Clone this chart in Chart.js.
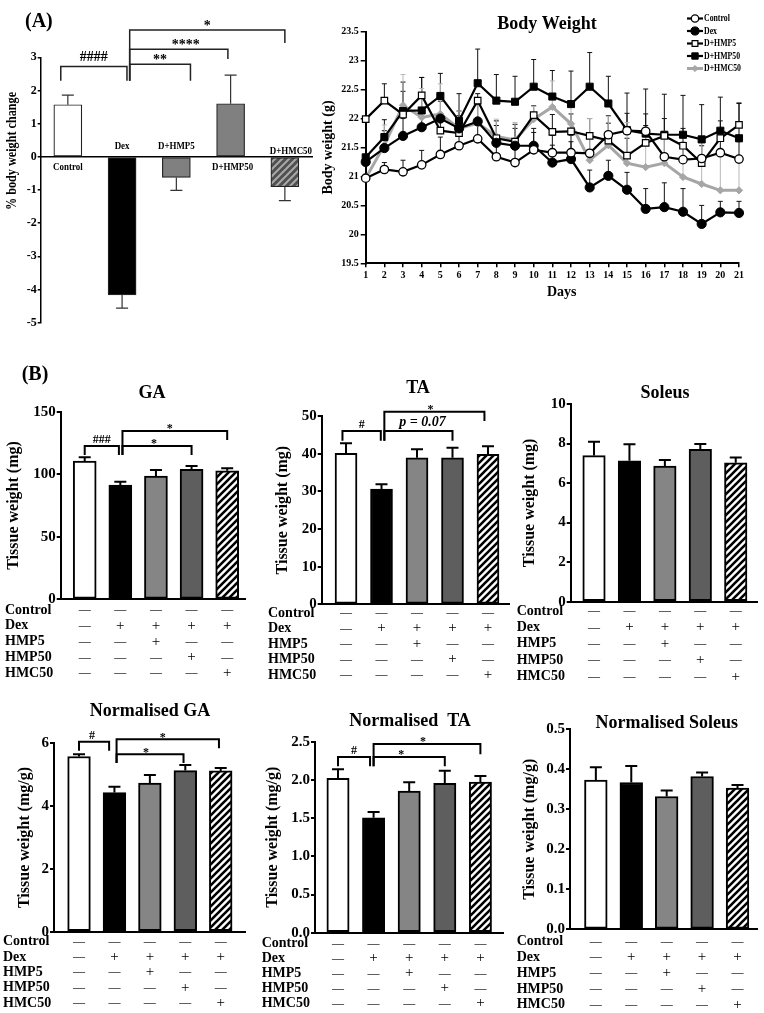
<!DOCTYPE html>
<html><head><meta charset="utf-8">
<script src="https://cdn.jsdelivr.net/npm/chart.js@4.4.1/dist/chart.umd.min.js"></script>
<style>
html,body{margin:0;padding:0;background:#fff;}
#page{position:relative;width:764px;height:1013px;overflow:hidden;background:#fff;}
canvas{position:absolute;}
</style></head>
<body><div id="page"></div>
<script>
const SERIF = '"Liberation Serif","Times New Roman",serif';

// groups / condition table
const groups = ['Control', 'Dex', 'D+HMP5', 'D+HMP50', 'D+HMC50'];
const rowNames = ['Control', 'Dex', 'HMP5', 'HMP50', 'HMC50'];
const rowMarks = [
  ['—', '—', '—', '—', '—'],
  ['—', '+', '+', '+', '+'],
  ['—', '—', '+', '—', '—'],
  ['—', '—', '—', '+', '—'],
  ['—', '—', '—', '—', '+']
];

// (A) % body weight change
const bwChange = [1.57, -4.16, -0.62, 1.60, -0.90];
const bwChangeErr = [0.29, 0.40, 0.39, 0.86, 0.42];

// (A) body weight over days
const days = [1, 2, 3, 4, 5, 6, 7, 8, 9, 10, 11, 12, 13, 14, 15, 16, 17, 18, 19, 20, 21];
const bwControl = [20.97, 21.12, 21.08, 21.20, 21.38, 21.53, 21.65, 21.34, 21.24, 21.46, 21.41, 21.41, 21.40, 21.72, 21.79, 21.78, 21.34, 21.29, 21.31, 21.41, 21.30];
const bwDex     = [21.25, 21.49, 21.70, 21.85, 22.00, 21.83, 21.95, 21.58, 21.53, 21.53, 21.24, 21.30, 20.81, 21.01, 20.77, 20.44, 20.47, 20.39, 20.18, 20.38, 20.37];
const bwHMP5    = [21.99, 22.31, 22.07, 22.40, 21.79, 21.75, 22.31, 21.66, 21.60, 22.06, 21.77, 21.78, 21.70, 21.62, 21.36, 21.58, 21.70, 21.53, 21.23, 21.66, 21.89];
const bwHMP50   = [21.33, 21.68, 22.13, 22.14, 22.39, 21.96, 22.61, 22.31, 22.29, 22.55, 22.38, 22.25, 22.55, 22.26, 21.80, 21.74, 21.72, 21.72, 21.64, 21.79, 21.66];
const bwHMC50   = [20.97, 21.54, 22.23, 22.02, 22.08, 21.83, 21.92, 21.69, 21.63, 21.99, 22.20, 21.91, 21.28, 21.54, 21.23, 21.16, 21.23, 20.99, 20.87, 20.76, 20.76];
const errControl = [0.05, 0.12, 0.20, 0.25, 0.30, 0.30, 0.30, 0.30, 0.30, 0.30, 0.30, 0.30, 0.30, 0.33, 0.30, 0.30, 0.35, 0.30, 0.30, 0.30, 0.30];
const errDex     = [0.05, 0.30, 0.30, 0.30, 0.30, 0.30, 0.30, 0.30, 0.30, 0.30, 0.30, 0.30, 0.30, 0.27, 0.30, 0.35, 0.42, 0.40, 0.32, 0.19, 0.20];
const errHMP5    = [0.05, 0.29, 0.40, 0.31, 0.30, 0.30, 0.12, 0.30, 0.30, 0.16, 0.30, 0.30, 0.30, 0.30, 0.30, 0.30, 0.30, 0.30, 0.30, 0.30, 0.38];
const errHMP50   = [0.05, 0.30, 0.50, 0.57, 0.39, 0.47, 0.59, 0.45, 0.44, 0.47, 0.45, 0.57, 0.59, 0.47, 0.64, 0.77, 0.70, 0.68, 0.60, 0.58, 0.60];
const errHMC50   = [0.05, 0.35, 0.53, 0.50, 0.52, 0.30, 0.30, 0.30, 0.30, 0.22, 0.45, 0.30, 0.72, 0.50, 0.70, 0.60, 0.55, 0.55, 0.80, 0.60, 0.60];

// (B) tissue weights
const gaVals = [110.6, 91.4, 98.6, 103.9, 102.8];
const gaErr  = [2.9, 2.6, 4.8, 2.7, 1.9];
const taVals = [40.1, 30.6, 38.9, 38.9, 39.8];
const taErr  = [2.65, 1.3, 2.3, 2.7, 2.2];
const solVals = [7.39, 7.13, 6.86, 7.71, 7.03];
const solErr  = [0.70, 0.83, 0.31, 0.27, 0.27];
const ngaVals = [5.58, 4.43, 4.73, 5.13, 5.12];
const ngaErr  = [0.07, 0.19, 0.26, 0.18, 0.09];
const ntaVals = [2.02, 1.505, 1.855, 1.955, 1.97];
const ntaErr  = [0.12, 0.075, 0.115, 0.165, 0.08];
const nsolVals = [0.373, 0.367, 0.332, 0.382, 0.353];
const nsolErr  = [0.032, 0.041, 0.015, 0.010, 0.008];

function el(sel){ return document.querySelector(sel); }
function F(size, style){ return (style ? style + ' ' : '') + 'bold ' + size + 'px ' + SERIF; }
function cf(size){ return { family: SERIF, size, weight: 'bold' }; }

function addCanvas(x, y, w, h){
  const c = document.createElement('canvas');
  c.width = w; c.height = h;
  c.style.left = x + 'px'; c.style.top = y + 'px';
  c.style.width = w + 'px'; c.style.height = h + 'px';
  el('#page').appendChild(c);
  return c;
}

function hatchTile(bg, fg, size, lw){
  const t = document.createElement('canvas'); t.width = t.height = size;
  const g = t.getContext('2d');
  g.fillStyle = bg; g.fillRect(0, 0, size, size);
  g.strokeStyle = fg; g.lineWidth = lw; g.beginPath();
  g.moveTo(-1, size + 1); g.lineTo(size + 1, -1);
  g.moveTo(-1, 1); g.lineTo(1, -1);
  g.moveTo(size - 1, size + 1); g.lineTo(size + 1, size - 1);
  g.stroke();
  return t;
}

function txt(ctx, s, x, y, font, sx, align, rot){
  ctx.save();
  ctx.translate(x, y);
  if (rot) ctx.rotate(rot);
  ctx.scale(sx || 1, 1);
  ctx.font = font; ctx.textAlign = align || 'center'; ctx.textBaseline = 'middle';
  ctx.fillStyle = '#000';
  ctx.fillText(s, 0, 0);
  ctx.restore();
}

function makeDeco(o, cx, cy){
  return {
    id: 'deco',
    beforeDatasetsDraw(chart){
      if (!o.lineErrs) return;
      const ctx = chart.ctx, ys = chart.scales.y;
      ctx.save();
      o.lineErrs.forEach((errs, k) => {
        const meta = chart.getDatasetMeta(k);
        const vals = chart.data.datasets[k].data;
        ctx.strokeStyle = o.lineErrColors[k]; ctx.lineWidth = 1;
        meta.data.forEach((pt, i) => {
          const y0 = ys.getPixelForValue(vals[i]), y1 = ys.getPixelForValue(vals[i] + errs[i]);
          ctx.beginPath();
          ctx.moveTo(pt.x, y0); ctx.lineTo(pt.x, y1);
          ctx.moveTo(pt.x - 2.5, y1); ctx.lineTo(pt.x + 2.5, y1);
          ctx.stroke();
        });
      });
      ctx.restore();
    },
    afterDatasetsDraw(chart){
      if (!o.errs) return;
      const ctx = chart.ctx, ys = chart.scales.y, meta = chart.getDatasetMeta(0);
      ctx.save();
      ctx.strokeStyle = o.errColor || '#000'; ctx.lineWidth = o.errW;
      meta.data.forEach((bar, i) => {
        const v = o.vals[i], e = o.errs[i];
        const y0 = ys.getPixelForValue(v), y1 = ys.getPixelForValue(v + Math.sign(v) * e);
        ctx.beginPath();
        ctx.moveTo(bar.x, y0); ctx.lineTo(bar.x, y1);
        ctx.moveTo(bar.x - o.cap, y1); ctx.lineTo(bar.x + o.cap, y1);
        ctx.stroke();
      });
      ctx.restore();
    },
    afterDraw(chart){
      const ctx = chart.ctx, xs = chart.scales.x, ys = chart.scales.y;
      ctx.save();
      ctx.fillStyle = '#000'; ctx.strokeStyle = '#000';
      (o.brackets || []).forEach(b => {
        const x1 = xs.getPixelForValue(b.from), x2 = xs.getPixelForValue(b.to);
        const yt = ys.getPixelForValue(b.top), yl = ys.getPixelForValue(b.l), yr = ys.getPixelForValue(b.r);
        ctx.strokeStyle = o.brColor || '#000'; ctx.lineWidth = o.brW;
        ctx.beginPath();
        ctx.moveTo(x1, yl); ctx.lineTo(x1, yt); ctx.lineTo(x2, yt); ctx.lineTo(x2, yr);
        ctx.stroke();
        const stars = /^\*+$/.test(b.text);
        ctx.font = stars ? o.starFont : (b.italic ? o.pFont : o.hashFont);
        ctx.textAlign = 'center'; ctx.textBaseline = 'alphabetic';
        ctx.fillText(b.text, (x1 + x2) / 2 + (b.tdx || 0), yt + (stars ? o.starDy : (b.italic ? o.pDy : o.hashDy)));
      });
      if (o.table){
        const tb = o.table;
        ctx.textBaseline = 'middle';
        rowNames.forEach((nm, r) => {
          const y = tb.y0 + r * tb.gap - cy;
          ctx.font = F(14); ctx.textAlign = 'left';
          ctx.fillText(nm, tb.x - cx, y);
          rowMarks[r].forEach((m, i) => {
            ctx.font = m === '+' ? '15px ' + SERIF : '12px ' + SERIF;
            ctx.textAlign = 'center';
            ctx.fillText(m, xs.getPixelForValue(i), y);
          });
        });
      }
      if (o.catLabels){
        const y0 = ys.getPixelForValue(0);
        o.catLabels.forEach((s, i) => {
          const [dx, dy] = o.catOffsets[i];
          txt(ctx, s, xs.getPixelForValue(i) + dx, y0 + dy, F(10.5), 0.85);
        });
      }
      if (o.legend){
        const lg = o.legend;
        chart.data.datasets.forEach((ds, k) => {
          const y = lg.y0 + k * lg.gap - cy, x = lg.x - cx;
          ctx.strokeStyle = ds.borderColor; ctx.lineWidth = ds.borderWidth;
          ctx.beginPath(); ctx.moveTo(x, y); ctx.lineTo(x + 16, y); ctx.stroke();
          ctx.fillStyle = ds.pointBackgroundColor; ctx.strokeStyle = ds.pointBorderColor;
          ctx.lineWidth = ds.pointBorderWidth;
          Chart.helpers.drawPoint(ctx, { pointStyle: ds.pointStyle, radius: ds.pointRadius - 0.5, borderWidth: ds.pointBorderWidth, rotation: 0 }, x + 8, y);
          txt(ctx, ds.label, x + 17, y, F(10), 0.78, 'left');
        });
      }
      (o.texts || []).forEach(t => txt(ctx, t.t, t.x - cx, t.y - cy, t.font, t.sx, t.align, t.rot));
      ctx.restore();
    }
  };
}

function barChart(o){
  const [cx, cy, cw, ch] = o.box, [L, T, R, B] = o.plot;
  const cv = addCanvas(cx, cy, cw, ch);
  const g = cv.getContext('2d');
  const fills = o.fills.map(f => (typeof f === 'string') ? f : g.createPattern(f, 'repeat'));
  const lh = o.titleSize * 1.2;
  return new Chart(cv, {
    type: 'bar',
    data: { datasets: [{
      data: o.vals.map((v, i) => ({ x: i, y: v })),
      backgroundColor: fills, borderColor: o.edge, borderWidth: o.bw,
      borderSkipped: false, barThickness: o.barW
    }]},
    options: {
      responsive: false, animation: false, devicePixelRatio: 1, events: [],
      layout: { padding: { left: 0, top: T - cy, right: cx + cw - R, bottom: cy + ch - B } },
      plugins: { legend: { display: false }, tooltip: { enabled: false } },
      scales: {
        x: { type: 'linear', offset: false, min: o.xmin, max: o.xmax, position: o.zeroAxis ? { y: 0 } : 'bottom',
             ticks: { display: false }, grid: { display: false, offset: false },
             border: { display: true, color: '#000', width: o.axisW },
             afterFit: s => { s.height = 0; } },
        y: { min: o.ymin, max: o.ymax,
             ticks: { stepSize: o.step, color: '#000', font: cf(o.tickSize), padding: o.tickPad,
                      callback: o.fmt || (v => v) },
             grid: { display: true, drawOnChartArea: false, color: '#000', lineWidth: o.axisW, tickLength: o.tickLen },
             border: { display: true, color: '#000', width: o.axisW },
             title: o.yTitle ? { display: true, text: o.yTitle, color: '#000', font: cf(o.titleSize),
                                 padding: { top: o.yTitleX - cx - lh / 2, bottom: 0 } } : { display: false },
             afterFit: s => { s.width = L - cx; } }
      }
    },
    plugins: [makeDeco(o, cx, cy)]
  });
}

// ---------- (A) % body weight change ----------
barChart({
  box: [0, 0, 322, 345], plot: [40.7, 57.3, 312, 322.7],
  vals: bwChange, errs: bwChangeErr, errW: 1.2, cap: 6, errColor: '#333',
  xmin: -0.5, xmax: 4.5, ymin: -5, ymax: 3, step: 1, zeroAxis: true,
  fills: ['#ffffff', '#000000', '#808080', '#808080', hatchTile('#505050', '#a8a8a8', 7, 2)],
  edge: '#222', bw: 1.2, barW: 28, axisW: 1.5, tickSize: 12, tickPad: 1, tickLen: 3, titleSize: 14,
  brW: 1.5, brColor: '#222', hashFont: F(14), starFont: F(14), hashDy: -5.5, starDy: 0,
  brackets: [
    { from: -0.13, to: 1.09, top: 2.72, l: 2.29, r: 2.29, text: '####' },
    { from: 1.14, to: 2.26, top: 2.79, l: 2.29, r: 2.29, text: '**' },
    { from: 1.14, to: 2.95, top: 3.24, l: 2.29, r: 2.95, text: '****', tdx: 7 },
    { from: 1.14, to: 4.0, top: 3.82, l: 2.29, r: 3.43, text: '*' }
  ],
  catLabels: groups, catOffsets: [[0, 10], [0, -11], [0, -10.5], [2, 10], [6, -6]],
  texts: [
    { t: '(A)', x: 25, y: 21.7, font: F(20), align: 'left' },
    { t: '% body weight change', x: 12.5, y: 151, font: F(14), sx: 0.87, rot: -Math.PI / 2 }
  ]
});

// ---------- (A) Body Weight line chart ----------
(function(){
  const cx = 318, cy = 0, cw = 446, ch = 310;
  const L = 365.7, T = 31.7, R = 739, B = 263.3;
  const cv = addCanvas(cx, cy, cw, ch);
  const series = [
    { label: 'Control', data: bwControl, err: errControl, line: '#000', lw: 2.2, style: 'circle', r: 4.2, bg: '#fff', pb: '#000', pw: 1.3, ec: '#111' },
    { label: 'Dex', data: bwDex, err: errDex, line: '#000', lw: 2.2, style: 'circle', r: 4.6, bg: '#000', pb: '#000', pw: 1, ec: '#111' },
    { label: 'D+HMP5', data: bwHMP5, err: errHMP5, line: '#000', lw: 2.2, style: 'rect', r: 4.6, bg: '#fff', pb: '#000', pw: 1.2, ec: '#111' },
    { label: 'D+HMP50', data: bwHMP50, err: errHMP50, line: '#000', lw: 2.2, style: 'rect', r: 5, bg: '#000', pb: '#000', pw: 1, ec: '#111' },
    { label: 'D+HMC50', data: bwHMC50, err: errHMC50, line: '#a6a6a6', lw: 3, style: 'rectRot', r: 3.6, bg: '#a6a6a6', pb: '#a6a6a6', pw: 1, ec: '#b8b8b8' }
  ];
  const o = {
    lineErrs: series.map(s => s.err), lineErrColors: series.map(s => s.ec),
    legend: { x: 687, y0: 18.5, gap: 12.5 },
    texts: [
      { t: 'Body Weight', x: 547, y: 24, font: F(18) },
      { t: 'Days', x: 561.7, y: 292.7, font: F(14) }
    ]
  };
  new Chart(cv, {
    type: 'line',
    data: { labels: days, datasets: series.map(s => ({
      label: s.label, data: s.data, borderColor: s.line, borderWidth: s.lw, tension: 0,
      pointStyle: s.style, pointRadius: s.r, pointBackgroundColor: s.bg,
      pointBorderColor: s.pb, pointBorderWidth: s.pw, fill: false
    }))},
    options: {
      responsive: false, animation: false, devicePixelRatio: 1, events: [],
      layout: { padding: { left: 0, top: T - cy, right: cx + cw - R, bottom: cy + ch - B - 20 } },
      plugins: { legend: { display: false }, tooltip: { enabled: false } },
      scales: {
        x: { ticks: { color: '#000', font: cf(10), padding: 2, maxRotation: 0, autoSkip: false },
             grid: { display: true, drawOnChartArea: false, color: '#000', lineWidth: 1.5, tickLength: 4 },
             border: { display: true, color: '#000', width: 2 },
             afterFit: s => { s.height = 20; } },
        y: { min: 19.5, max: 23.5,
             ticks: { stepSize: 0.5, color: '#000', font: cf(10), padding: 2, callback: v => String(Number(v)) },
             grid: { display: true, drawOnChartArea: false, color: '#000', lineWidth: 1.5, tickLength: 5 },
             border: { display: true, color: '#000', width: 2 },
             title: { display: true, text: 'Body weight (g)', color: '#000', font: cf(14), padding: { top: 328 - cx - 8.4, bottom: 0 } },
             afterFit: s => { s.width = L - cx; } }
      }
    },
    plugins: [makeDeco(o, cx, cy)]
  });
})();

// ---------- (B) tissue weights ----------
const bFills = ['#ffffff', '#000000', '#858585', '#5e5e5e', hatchTile('#ffffff', '#000000', 7, 2.6)];
const bBase = {
  fills: bFills, edge: '#000', bw: 2, axisW: 2, tickSize: 15, tickPad: 1, tickLen: 4, titleSize: 16,
  errW: 2, cap: 6, brW: 2, hashFont: F(12), starFont: F(12), pFont: F(14, 'italic'),
  hashDy: -3, starDy: 1.5, pDy: -5
};
const fix1 = v => Number(v).toFixed(1);

barChart(Object.assign({}, bBase, {
  box: [0, 365, 255, 320], plot: [60.7, 411.7, 245, 599.3],
  vals: gaVals, errs: gaErr, xmin: -0.674, xmax: 4.5, ymin: 0, ymax: 150, step: 50, barW: 23,
  yTitle: 'Tissue weight (mg)', yTitleX: 14,
  brackets: [
    { from: 0, to: 0.96, top: 122.6, l: 115.4, r: 115.4, text: '###' },
    { from: 1.06, to: 3, top: 122.6, l: 115.4, r: 115.4, text: '*', tdx: -3 },
    { from: 1.06, to: 4, top: 134.6, l: 115.4, r: 127.4, text: '*', tdx: -5 }
  ],
  table: { x: 5, y0: 610, gap: 15.8 },
  texts: [
    { t: '(B)', x: 21.7, y: 375, font: F(20), align: 'left' },
    { t: 'GA', x: 152, y: 393, font: F(18) }
  ]
}));

barChart(Object.assign({}, bBase, {
  box: [255, 365, 255, 320], plot: [321.7, 416, 510, 604.3],
  vals: taVals, errs: taErr, xmin: -0.685, xmax: 4.62, ymin: 0, ymax: 50, step: 10, barW: 22,
  yTitle: 'Tissue weight (mg)', yTitleX: 283,
  brackets: [
    { from: -0.1, to: 0.98, top: 46.0, l: 43.4, r: 43.4, text: '#' },
    { from: 1.08, to: 3, top: 46.0, l: 43.4, r: 43.4, text: 'p = 0.07', italic: true, tdx: 4 },
    { from: 1.08, to: 3.9, top: 51.1, l: 43.4, r: 48.7, text: '*', tdx: -4 }
  ],
  table: { x: 268, y0: 613, gap: 15.5 },
  texts: [{ t: 'TA', x: 418, y: 388, font: F(18) }]
}));

barChart(Object.assign({}, bBase, {
  box: [505, 365, 259, 320], plot: [570.7, 404, 757, 601.7],
  vals: solVals, errs: solErr, xmin: -0.658, xmax: 4.6, ymin: 0, ymax: 10, step: 2, barW: 22.5,
  yTitle: 'Tissue weight (mg)', yTitleX: 530,
  table: { x: 516.7, y0: 611, gap: 16.4 },
  texts: [{ t: 'Soleus', x: 665, y: 393, font: F(18) }]
}));

barChart(Object.assign({}, bBase, {
  box: [0, 690, 255, 323], plot: [54, 743.3, 245, 931.7],
  vals: ngaVals, errs: ngaErr, xmin: -0.706, xmax: 4.685, ymin: 0, ymax: 6, step: 2, barW: 22.7,
  yTitle: 'Tissue weight (mg/g)', yTitleX: 25,
  brackets: [
    { from: 0, to: 0.85, top: 6.05, l: 5.76, r: 5.76, text: '#', tdx: -2 },
    { from: 1.06, to: 2.95, top: 5.65, l: 5.37, r: 5.37, text: '*', tdx: -4 },
    { from: 1.06, to: 3.95, top: 6.13, l: 5.37, r: 5.84, text: '*', tdx: -5 }
  ],
  table: { x: 3, y0: 941.5, gap: 15.4 },
  texts: [{ t: 'Normalised GA', x: 150, y: 711.7, font: F(18) }]
}));

barChart(Object.assign({}, bBase, {
  box: [255, 690, 255, 323], plot: [315, 741.7, 503, 932.7],
  vals: ntaVals, errs: ntaErr, xmin: -0.646, xmax: 4.635, ymin: 0, ymax: 2.5, step: 0.5, barW: 22.3, fmt: fix1,
  yTitle: 'Tissue weight (mg/g)', yTitleX: 273,
  brackets: [
    { from: 0, to: 0.9, top: 2.30, l: 2.18, r: 2.18, text: '#' },
    { from: 1.0, to: 3, top: 2.30, l: 2.18, r: 2.18, text: '*', tdx: -8 },
    { from: 1.0, to: 4, top: 2.47, l: 2.18, r: 2.335, text: '*', tdx: -4 }
  ],
  table: { x: 261.7, y0: 943.5, gap: 15 },
  texts: [{ t: 'Normalised  TA', x: 410, y: 721.7, font: F(18) }]
}));

barChart(Object.assign({}, bBase, {
  box: [505, 690, 259, 323], plot: [570, 729.3, 757, 929.3],
  vals: nsolVals, errs: nsolErr, xmin: -0.73, xmax: 4.55, ymin: 0, ymax: 0.5, step: 0.1, barW: 22.7, fmt: fix1,
  yTitle: 'Tissue weight (mg/g)', yTitleX: 530,
  table: { x: 516.7, y0: 941.5, gap: 15.8 },
  texts: [{ t: 'Normalised Soleus', x: 666.7, y: 723.3, font: F(18) }]
}));
</script>
</body></html>
